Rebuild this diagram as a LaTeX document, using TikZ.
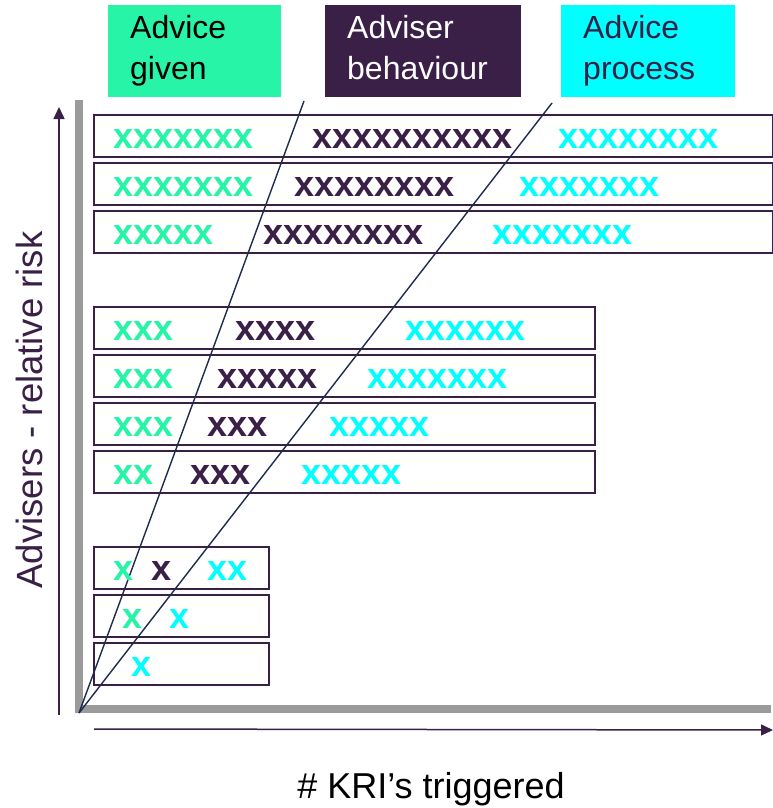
\documentclass[tikz,border=0pt]{standalone}
\usepackage{fontspec}
\setmainfont{Liberation Sans}
\usetikzlibrary{arrows.meta}
\definecolor{agreen}{HTML}{28F4A8}
\definecolor{apurple}{HTML}{3A1F47}
\definecolor{acyan}{HTML}{00FFFF}
\definecolor{agrey}{HTML}{9B9B9B}
\definecolor{anavy}{HTML}{1F2A4F}
\tikzset{
  rowbox/.style={draw=apurple, line width=2pt, anchor=north west, minimum height=42pt, inner sep=0pt},
  xs/.style={anchor=base west, inner sep=0pt, font=\fontsize{36}{36}\selectfont\bfseries},
  xg/.style={xs, text=agreen},
  xp/.style={xs, text=apurple},
  xc/.style={xs, text=acyan},
  head/.style={anchor=north west, minimum height=92pt, inner xsep=22pt, inner ysep=0pt, align=left,
    font=\fontsize{32}{41}\selectfont},
  axisgrey/.style={draw=agrey, line width=8pt},
  axisarrow/.style={draw=apurple, line width=1.5pt, -{Triangle[length=12pt,width=11pt]}},
  diag/.style={draw=anavy, line width=1.4pt}
}
\begin{document}
\begin{tikzpicture}[x=1pt,y=-1pt]
\useasboundingbox[fill=white] (0,0) rectangle (773,808);

% header boxes
\node[head, fill=agreen, text=black, minimum width=173pt, text width=129pt] (hg) at (108,5) {\strut Advice\\given\strut};
\node[head, fill=apurple, text=white, minimum width=196pt, text width=152pt] (hp) at (325,5) {\strut Adviser\\behaviour\strut};
\node[head, fill=acyan, text=apurple, minimum width=174pt, text width=130pt] (hc) at (561,5) {\strut Advice\\process\strut};

% axes
\coordinate (o) at (79,713);
\coordinate (gytop) at (79,100);
\coordinate (gxend) at (771,709);
\coordinate (gxstart) at (75,709);
\draw[axisgrey] (gytop) -- (o);
\draw[axisgrey] (gxstart) -- (gxend);
\coordinate (ay0) at (59,715);
\coordinate (ay1) at (59,107);
\coordinate (ax0) at (94,729);
\coordinate (ax1) at (773,730);
\draw[axisarrow] (ay0) -- (ay1);
\draw[axisarrow] (ax0) -- (ax1);

% rows
\node[rowbox, minimum width=679pt] (r1) at (93,114) {};
\node[rowbox, minimum width=679pt] (r2) at (93,162) {};
\node[rowbox, minimum width=679pt] (r3) at (93,210) {};
\node[rowbox, minimum width=501pt] (r4) at (93,306) {};
\node[rowbox, minimum width=501pt] (r5) at (93,354) {};
\node[rowbox, minimum width=501pt] (r6) at (93,402) {};
\node[rowbox, minimum width=501pt] (r7) at (93,450) {};
\node[rowbox, minimum width=175pt] (r8) at (93,546) {};
\node[rowbox, minimum width=175pt] (r9) at (93,594) {};
\node[rowbox, minimum width=175pt] (r10) at (93,642) {};

% diagonal lines
\coordinate (d1) at (304,101);
\coordinate (d2) at (552,103);
\draw[diag] (o) -- (d1);
\draw[diag] (o) -- (d2);

% row texts
\node[xg] (t1g) at (113,148) {xxxxxxx};
\node[xp] (t1p) at (312,148) {xxxxxxxxxx};
\node[xc] (t1c) at (558,148) {xxxxxxxx};
\node[xg] (t2g) at (113,196) {xxxxxxx};
\node[xp] (t2p) at (294,196) {xxxxxxxx};
\node[xc] (t2c) at (519,196) {xxxxxxx};
\node[xg] (t3g) at (113,244) {xxxxx};
\node[xp] (t3p) at (263,244) {xxxxxxxx};
\node[xc] (t3c) at (492,244) {xxxxxxx};

\node[xg] (t4g) at (113,340) {xxx};
\node[xp] (t4p) at (235,340) {xxxx};
\node[xc] (t4c) at (405,340) {xxxxxx};
\node[xg] (t5g) at (113,388) {xxx};
\node[xp] (t5p) at (217,388) {xxxxx};
\node[xc] (t5c) at (367,388) {xxxxxxx};
\node[xg] (t6g) at (113,436) {xxx};
\node[xp] (t6p) at (207,436) {xxx};
\node[xc] (t6c) at (329,436) {xxxxx};
\node[xg] (t7g) at (113,484) {xx};
\node[xp] (t7p) at (190,484) {xxx};
\node[xc] (t7c) at (301,484) {xxxxx};

\node[xg] (t8g) at (113,580) {x};
\node[xp] (t8p) at (151,580) {x};
\node[xc] (t8c) at (207,580) {xx};
\node[xg] (t9g) at (122,628) {x};
\node[xc] (t9c) at (169,628) {x};
\node[xc] (t10c) at (131,676) {x};

% axis labels
\node[rotate=90, anchor=base, inner sep=0pt, text=apurple, font=\fontsize{36.5}{36.5}\selectfont] (ylab) at (42,410) {Advisers - relative risk};
\node[anchor=base, inner sep=0pt, text=black, font=\fontsize{36}{36}\selectfont] (xlab) at (431,798) {\# KRI’s triggered};
\end{tikzpicture}
\end{document}
